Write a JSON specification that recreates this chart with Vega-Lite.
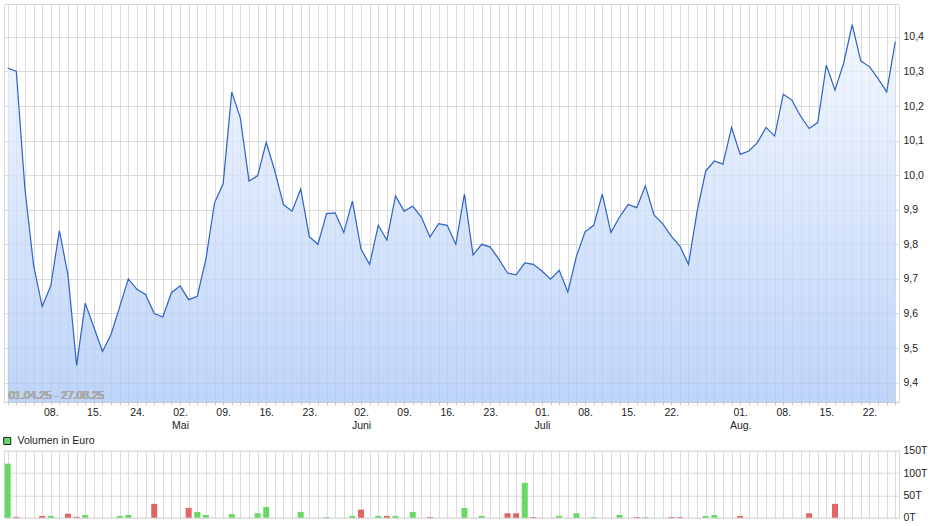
{
  "$schema": "https://vega.github.io/schema/vega-lite/v6.json",
  "padding": {"left": 1, "top": 3, "right": 0, "bottom": 0},
  "background": "white",
  "config": {
    "font": "Liberation Sans",
    "view": {"stroke": "#d9d9d9"},
    "axis": {"gridColor": "#dadada", "labelFont": "Liberation Sans", "labelColor": "#222222", "labelFontSize": 10.5, "title": null}
  },
  "data": {"values": [
    {"d":"2025-04-01","p":10.31,"v":121,"dir":"up"},
    {"d":"2025-04-02","p":10.30,"v":2,"dir":"down"},
    {"d":"2025-04-03","p":9.96,"v":0,"dir":"down"},
    {"d":"2025-04-04","p":9.74,"v":0,"dir":"down"},
    {"d":"2025-04-07","p":9.62,"v":4,"dir":"down"},
    {"d":"2025-04-08","p":9.68,"v":4,"dir":"up"},
    {"d":"2025-04-09","p":9.84,"v":0,"dir":"up"},
    {"d":"2025-04-10","p":9.71,"v":9,"dir":"down"},
    {"d":"2025-04-11","p":9.45,"v":2,"dir":"down"},
    {"d":"2025-04-14","p":9.63,"v":6,"dir":"up"},
    {"d":"2025-04-15","p":9.56,"v":0,"dir":"down"},
    {"d":"2025-04-16","p":9.49,"v":0,"dir":"down"},
    {"d":"2025-04-17","p":9.54,"v":0,"dir":"up"},
    {"d":"2025-04-22","p":9.62,"v":4,"dir":"up"},
    {"d":"2025-04-23","p":9.70,"v":6,"dir":"up"},
    {"d":"2025-04-24","p":9.67,"v":0,"dir":"down"},
    {"d":"2025-04-25","p":9.655,"v":0,"dir":"down"},
    {"d":"2025-04-28","p":9.60,"v":31,"dir":"down"},
    {"d":"2025-04-29","p":9.59,"v":0,"dir":"down"},
    {"d":"2025-04-30","p":9.66,"v":0,"dir":"up"},
    {"d":"2025-05-02","p":9.68,"v":0,"dir":"up"},
    {"d":"2025-05-05","p":9.64,"v":22,"dir":"down"},
    {"d":"2025-05-06","p":9.65,"v":13,"dir":"up"},
    {"d":"2025-05-07","p":9.757,"v":6,"dir":"up"},
    {"d":"2025-05-08","p":9.92,"v":0,"dir":"up"},
    {"d":"2025-05-09","p":9.975,"v":0,"dir":"up"},
    {"d":"2025-05-12","p":10.24,"v":8,"dir":"up"},
    {"d":"2025-05-13","p":10.165,"v":0,"dir":"down"},
    {"d":"2025-05-14","p":9.983,"v":0,"dir":"down"},
    {"d":"2025-05-15","p":9.998,"v":10,"dir":"up"},
    {"d":"2025-05-16","p":10.095,"v":24,"dir":"up"},
    {"d":"2025-05-19","p":10.012,"v":0,"dir":"down"},
    {"d":"2025-05-20","p":9.915,"v":0,"dir":"down"},
    {"d":"2025-05-21","p":9.896,"v":0,"dir":"down"},
    {"d":"2025-05-22","p":9.96,"v":13,"dir":"up"},
    {"d":"2025-05-23","p":9.822,"v":0,"dir":"down"},
    {"d":"2025-05-26","p":9.80,"v":0,"dir":"down"},
    {"d":"2025-05-27","p":9.889,"v":1.5,"dir":"up"},
    {"d":"2025-05-28","p":9.891,"v":0,"dir":"up"},
    {"d":"2025-05-29","p":9.834,"v":0,"dir":"down"},
    {"d":"2025-05-30","p":9.925,"v":4,"dir":"up"},
    {"d":"2025-06-02","p":9.786,"v":18,"dir":"down"},
    {"d":"2025-06-03","p":9.742,"v":0,"dir":"down"},
    {"d":"2025-06-04","p":9.855,"v":4,"dir":"up"},
    {"d":"2025-06-05","p":9.812,"v":4,"dir":"down"},
    {"d":"2025-06-06","p":9.94,"v":4,"dir":"up"},
    {"d":"2025-06-09","p":9.896,"v":0,"dir":"down"},
    {"d":"2025-06-10","p":9.91,"v":13,"dir":"up"},
    {"d":"2025-06-11","p":9.879,"v":0,"dir":"down"},
    {"d":"2025-06-12","p":9.821,"v":1.5,"dir":"down"},
    {"d":"2025-06-13","p":9.86,"v":0,"dir":"up"},
    {"d":"2025-06-16","p":9.855,"v":0,"dir":"down"},
    {"d":"2025-06-17","p":9.80,"v":0,"dir":"down"},
    {"d":"2025-06-18","p":9.945,"v":22,"dir":"up"},
    {"d":"2025-06-19","p":9.769,"v":0,"dir":"down"},
    {"d":"2025-06-20","p":9.80,"v":4,"dir":"up"},
    {"d":"2025-06-23","p":9.792,"v":0,"dir":"down"},
    {"d":"2025-06-24","p":9.757,"v":0,"dir":"down"},
    {"d":"2025-06-25","p":9.717,"v":10,"dir":"down"},
    {"d":"2025-06-26","p":9.712,"v":10,"dir":"down"},
    {"d":"2025-06-27","p":9.746,"v":78,"dir":"up"},
    {"d":"2025-06-30","p":9.742,"v":1.5,"dir":"down"},
    {"d":"2025-07-01","p":9.723,"v":0,"dir":"down"},
    {"d":"2025-07-02","p":9.699,"v":0,"dir":"down"},
    {"d":"2025-07-03","p":9.725,"v":4,"dir":"up"},
    {"d":"2025-07-04","p":9.662,"v":0,"dir":"down"},
    {"d":"2025-07-07","p":9.766,"v":10,"dir":"up"},
    {"d":"2025-07-08","p":9.836,"v":0,"dir":"up"},
    {"d":"2025-07-09","p":9.855,"v":1.5,"dir":"up"},
    {"d":"2025-07-10","p":9.945,"v":0,"dir":"up"},
    {"d":"2025-07-11","p":9.834,"v":0,"dir":"down"},
    {"d":"2025-07-14","p":9.879,"v":6,"dir":"up"},
    {"d":"2025-07-15","p":9.915,"v":0,"dir":"up"},
    {"d":"2025-07-16","p":9.906,"v":1.5,"dir":"down"},
    {"d":"2025-07-17","p":9.969,"v":1.5,"dir":"up"},
    {"d":"2025-07-18","p":9.885,"v":0,"dir":"down"},
    {"d":"2025-07-21","p":9.86,"v":0,"dir":"down"},
    {"d":"2025-07-22","p":9.824,"v":1.5,"dir":"down"},
    {"d":"2025-07-23","p":9.795,"v":1.5,"dir":"down"},
    {"d":"2025-07-24","p":9.742,"v":0,"dir":"down"},
    {"d":"2025-07-25","p":9.895,"v":0,"dir":"up"},
    {"d":"2025-07-28","p":10.012,"v":4,"dir":"up"},
    {"d":"2025-07-29","p":10.041,"v":6,"dir":"up"},
    {"d":"2025-07-30","p":10.032,"v":0,"dir":"down"},
    {"d":"2025-07-31","p":10.138,"v":0,"dir":"up"},
    {"d":"2025-08-01","p":10.06,"v":4,"dir":"down"},
    {"d":"2025-08-04","p":10.07,"v":0,"dir":"up"},
    {"d":"2025-08-05","p":10.094,"v":0,"dir":"up"},
    {"d":"2025-08-06","p":10.138,"v":0,"dir":"up"},
    {"d":"2025-08-07","p":10.113,"v":0,"dir":"down"},
    {"d":"2025-08-08","p":10.234,"v":0,"dir":"up"},
    {"d":"2025-08-11","p":10.217,"v":0,"dir":"down"},
    {"d":"2025-08-12","p":10.171,"v":0,"dir":"down"},
    {"d":"2025-08-13","p":10.135,"v":10,"dir":"down"},
    {"d":"2025-08-14","p":10.152,"v":0,"dir":"up"},
    {"d":"2025-08-15","p":10.318,"v":0,"dir":"up"},
    {"d":"2025-08-18","p":10.246,"v":31,"dir":"down"},
    {"d":"2025-08-19","p":10.323,"v":0,"dir":"up"},
    {"d":"2025-08-20","p":10.435,"v":0,"dir":"up"},
    {"d":"2025-08-21","p":10.33,"v":0,"dir":"down"},
    {"d":"2025-08-22","p":10.314,"v":0,"dir":"down"},
    {"d":"2025-08-25","p":10.279,"v":0,"dir":"down"},
    {"d":"2025-08-26","p":10.241,"v":0,"dir":"down"},
    {"d":"2025-08-27","p":10.386,"v":0,"dir":"up"}
  ]},
  "vconcat": [
    {
      "width": 895,
      "height": 398,
      "encoding": {
        "x": {
          "field": "d", "type": "ordinal",
          "scale": {"type": "point", "padding": 0.43},
          "axis": {
            "grid": true, "labelAngle": 0, "labelOverlap": false, "labelFlush": false,
            "domainColor": "#cccccc", "tickColor": "#cccccc", "tickSize": 3, "labelPadding": 2,
            "labelLineHeight": 13, "labelBaseline": "top",
            "labelExpr": "{'2025-04-08':'08.','2025-04-15':'15.','2025-04-24':'24.','2025-05-02':['02.','Mai'],'2025-05-09':'09.','2025-05-16':'16.','2025-05-23':'23.','2025-06-02':['02.','Juni'],'2025-06-09':'09.','2025-06-16':'16.','2025-06-23':'23.','2025-07-01':['01.','Juli'],'2025-07-08':'08.','2025-07-15':'15.','2025-07-22':'22.','2025-08-01':['01.','Aug.'],'2025-08-08':'08.','2025-08-15':'15.','2025-08-22':'22.'}[datum.value] || ''"
          }
        },
        "y": {"field": "p", "type": "quantitative",
          "scale": {"domain": [9.344, 10.495], "zero": false, "nice": false},
          "axis": {"orient": "right", "values": [9.4, 9.5, 9.6, 9.7, 9.8, 9.9, 10.0, 10.1, 10.2, 10.3, 10.4],
            "labelExpr": "replace(format(datum.value, '.1f'), '.', ',')", "labelOverlap": false,
            "grid": true, "ticks": false, "domain": false, "labelPadding": 4}
        }
      },
      "layer": [
        {
          "mark": {
            "type": "area", "clip": true, "fillOpacity": 0.75,
            "color": {"gradient": "linear", "x1": 0, "y1": 0, "x2": 0, "y2": 1,
              "stops": [{"offset": 0, "color": "#f0f5fe"}, {"offset": 1, "color": "#a8c6f7"}]}
          },
          "encoding": {
            "y2": {"datum": 9.344}
          }
        },
        {
          "mark": {"type": "line", "color": "#2b62c6", "strokeWidth": 1.2, "clip": true},
          "encoding": {}
        },
        {
          "mark": {"type": "text", "align": "left", "baseline": "bottom", "dx": 1, "dy": -1, "fontSize": 11, "color": "#a8a8a8"},
          "encoding": {
            "x": {"datum": "2025-04-01"},
            "y": {"datum": 9.344},
            "text": {"value": "01.04.25 - 27.08.25"}
          }
        }
      ]
    },
    {
      "width": 895,
      "height": 67,
      "encoding": {
        "x": {
          "field": "d", "type": "ordinal",
          "scale": {"type": "point", "padding": 0.43},
          "axis": {"grid": true, "labels": false, "ticks": false, "domain": false}
        }
      },
      "layer": [
        {
          "mark": {"type": "bar", "size": 6},
          "encoding": {
            "y": {"field": "v", "type": "quantitative",
              "scale": {"domain": [0, 150], "nice": false},
              "axis": {"orient": "right", "values": [0, 50, 100, 150], "labelExpr": "datum.value + 'T'", "labelOverlap": false,
                "grid": true, "ticks": false, "domain": false, "labelPadding": 4}
            },
            "color": {"field": "dir", "type": "nominal",
              "scale": {"domain": ["up", "down"], "range": ["#66d966", "#e06666"]},
              "legend": null}
          }
        },
        {
          "transform": [{"filter": "datum.d == '2025-04-01'"}],
          "mark": {"type": "bar", "size": 6},
          "encoding": {
            "y": {"datum": 0,
              "axis": {"orient": "right", "values": [0, 50, 100, 150], "labelExpr": "datum.value + 'T'", "labelOverlap": false,
                "grid": true, "ticks": false, "domain": false, "labelPadding": 4}},
            "fill": {"datum": "Volumen in Euro", "type": "nominal",
              "scale": {"range": ["#66d966"]},
              "legend": {"title": null, "orient": "none", "legendX": -2, "legendY": -15, "padding": 0,
                "symbolType": "square", "symbolSize": 50, "symbolStrokeColor": "#222222", "symbolStrokeWidth": 1,
                "labelFontSize": 10.5, "labelColor": "#222222", "labelOffset": 5, "labelFont": "Liberation Sans"}
            }
          }
        }
      ],
      "resolve": {"legend": {"fill": "independent"}}
    }
  ],
  "spacing": 48.7,
  "bounds": "flush",
  "resolve": {"scale": {"x": "shared"}, "legend": {"fill": "independent"}}
}
